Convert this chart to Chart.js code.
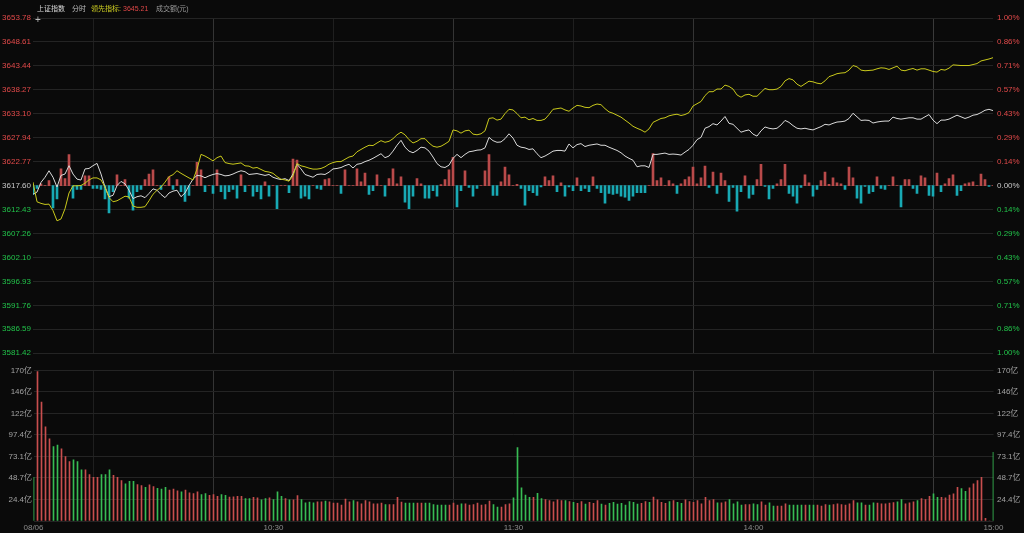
<!DOCTYPE html>
<html>
<head>
<meta charset="utf-8">
<script src="https://cdn.jsdelivr.net/npm/chart.js@4/dist/chart.umd.min.js"></script>
<style>
  html, body { margin: 0; padding: 0; background: #0a0a0a; width: 1024px; height: 533px; overflow: hidden; }
  #priceWrap { position: absolute; left: 0; top: 0; width: 1024px; height: 362px; }
  #volWrap { position: absolute; left: 0; top: 362px; width: 1024px; height: 171px; }
  .hdr { position: absolute; top: 4px; font-size: 7px; line-height: 10px; white-space: nowrap;
         font-family: "Liberation Sans", "Noto Sans CJK SC", sans-serif; }
</style>
</head>
<body>
<div id="priceWrap"><canvas id="price" width="1024" height="362"></canvas></div>
<div id="volWrap"><canvas id="vol" width="1024" height="171"></canvas></div>
<span class="hdr" style="left:37px;color:#d8d8d8">上证指数</span>
<span class="hdr" style="left:72px;color:#bdbdbd">分时</span>
<span class="hdr" style="left:91px;color:#cfcf22">领先指标:</span>
<span class="hdr" style="left:123px;color:#e04848">3645.21</span>
<span class="hdr" style="left:156px;color:#9a9a9a">成交额(元)</span>
<span class="hdr" style="left:35px;top:15px;font-size:10px;color:#bbbbbb">+</span>
<script>
const FONT = '"Liberation Sans", "Noto Sans CJK SC", sans-serif'
const prevClose = 3617.60

// axis labels, top to bottom
const priceLabels = ['3653.78', '3648.61', '3643.44', '3638.27', '3633.10', '3627.94', '3622.77', '3617.60',
  '3612.43', '3607.26', '3602.10', '3596.93', '3591.76', '3586.59', '3581.42']
const pctLabels = ['1.00%', '0.86%', '0.71%', '0.57%', '0.43%', '0.29%', '0.14%', '0.00%',
  '0.14%', '0.29%', '0.43%', '0.57%', '0.71%', '0.86%', '1.00%']
const volTicks = [0, 24.35, 48.7, 73.05, 97.4, 121.75, 146.1, 170.45]
const volLabels = ['', '24.4亿', '48.7亿', '73.1亿', '97.4亿', '122亿', '146亿', '170亿']
const timeTicks = [0, 60, 120, 180, 240]
const timeLabels = ['08/06', '10:30', '11:30', '14:00', '15:00']

// 上证指数, one value per minute (241)
const priceLine = [
  3615.74, 3616.20, 3618.30, 3619.40, 3620.80, 3619.40, 3617.30, 3619.80, 3620.10, 3621.90,
  3620.10, 3619.00, 3618.80, 3621.20, 3621.30, 3621.90, 3622.40, 3620.10, 3617.30, 3615.20,
  3615.50, 3617.60, 3618.50, 3618.00, 3616.60, 3614.80, 3615.20, 3615.40, 3615.00, 3615.90,
  3616.90, 3616.60, 3615.70, 3615.00, 3616.00, 3616.40, 3616.60, 3615.20, 3616.00, 3617.60,
  3619.00, 3619.80, 3619.70, 3619.30, 3619.70, 3620.00, 3620.20, 3620.00, 3619.70, 3619.80,
  3620.10, 3620.50, 3620.80, 3620.60, 3620.00, 3620.10, 3620.20, 3620.00, 3619.80, 3620.00,
  3619.40, 3619.10, 3618.90, 3619.10, 3618.70, 3620.10, 3622.20, 3621.20, 3620.00, 3619.70,
  3619.40, 3620.00, 3620.10, 3620.00, 3620.50, 3621.20, 3621.30, 3621.50, 3621.90, 3622.20,
  3621.40, 3622.20, 3622.36, 3622.78, 3623.07, 3623.49, 3623.98, 3624.48, 3623.63, 3623.98,
  3625.04, 3626.31, 3627.37, 3625.89, 3625.04, 3624.69, 3625.19, 3625.89, 3625.75, 3625.04,
  3623.77, 3622.36, 3621.66, 3621.51, 3622.01, 3623.49, 3624.34, 3623.63, 3624.34, 3624.90,
  3625.04, 3625.25, 3625.32, 3625.75, 3628.01, 3627.30, 3626.95, 3627.02, 3627.73, 3628.78,
  3627.86, 3626.31, 3625.89, 3625.75, 3625.40, 3625.54, 3624.48, 3623.63, 3623.98, 3624.48,
  3625.04, 3625.19, 3625.19, 3625.04, 3626.59, 3625.75, 3626.45, 3626.66, 3626.03, 3626.31,
  3626.45, 3626.59, 3626.31, 3626.31, 3625.89, 3625.54, 3625.19, 3624.69, 3623.98, 3623.49,
  3623.07, 3621.66, 3621.87, 3621.87, 3621.51, 3624.34, 3624.34, 3624.48, 3624.62, 3624.34,
  3624.41, 3624.34, 3624.19, 3624.83, 3625.40, 3626.31, 3627.52, 3628.01, 3629.98, 3630.33,
  3630.97, 3630.69, 3631.53, 3632.52, 3631.04, 3630.83, 3629.98, 3629.13, 3629.42, 3629.62,
  3628.71, 3628.29, 3629.42, 3630.26, 3629.98, 3629.84, 3629.98, 3630.69, 3631.67, 3631.25,
  3630.55, 3629.98, 3629.84, 3629.98, 3629.77, 3629.62, 3629.98, 3630.33, 3630.83, 3630.69,
  3631.04, 3631.32, 3631.39, 3631.53, 3632.09, 3633.22, 3632.45, 3631.67, 3631.74, 3631.67,
  3631.11, 3631.32, 3631.46, 3631.53, 3631.53, 3632.38, 3632.09, 3631.95, 3632.09, 3632.24,
  3632.24, 3631.95, 3631.95, 3632.45, 3632.94, 3631.74, 3630.97, 3631.74, 3631.74, 3631.95,
  3632.38, 3632.80, 3632.45, 3632.09, 3632.38, 3632.80, 3632.94, 3633.36, 3633.86, 3634.07,
  3633.79
]

// 领先指标
const leadLine = [
  3618.34, 3614.11, 3613.76, 3613.54, 3613.60, 3612.20, 3610.00, 3610.40, 3612.60, 3616.00,
  3617.56, 3617.56, 3617.63, 3618.13, 3618.83, 3619.26, 3619.26, 3618.83, 3617.28, 3615.03,
  3614.11, 3614.32, 3614.81, 3615.31, 3615.17, 3613.19, 3612.91, 3612.91, 3613.05, 3614.32,
  3615.73, 3616.58, 3617.28, 3618.34, 3619.54, 3619.96, 3620.81, 3620.25, 3619.75, 3619.26,
  3618.83, 3621.16, 3624.34, 3623.98, 3623.49, 3622.93, 3623.63, 3623.98, 3622.57, 3622.36,
  3622.22, 3622.36, 3622.50, 3621.87, 3621.80, 3621.37, 3621.51, 3621.09, 3620.67, 3620.53,
  3620.25, 3619.54, 3618.98, 3618.83, 3618.55, 3619.75, 3622.36, 3621.87, 3621.66, 3621.37,
  3621.16, 3621.16, 3621.30, 3621.66, 3622.22, 3622.57, 3622.78, 3622.78, 3623.28, 3623.77,
  3623.98, 3624.90, 3625.40, 3625.89, 3626.31, 3626.24, 3626.80, 3627.30, 3626.95, 3627.16,
  3627.73, 3628.57, 3629.13, 3628.57, 3627.52, 3626.80, 3627.16, 3627.73, 3627.73, 3626.80,
  3626.10, 3625.89, 3626.10, 3626.59, 3627.16, 3629.62, 3629.42, 3628.92, 3629.42, 3629.56,
  3628.71, 3628.57, 3628.78, 3629.42, 3632.09, 3632.24, 3631.74, 3631.95, 3633.15, 3634.07,
  3633.93, 3633.15, 3632.24, 3632.38, 3631.81, 3632.09, 3631.67, 3631.67, 3631.95, 3632.94,
  3634.07, 3634.21, 3634.35, 3633.93, 3633.65, 3634.35, 3634.92, 3634.78, 3634.50, 3634.42,
  3634.92, 3635.21, 3635.07, 3634.21, 3633.51, 3633.22, 3632.80, 3632.38, 3631.74, 3631.11,
  3630.40, 3629.98, 3629.62, 3629.13, 3629.84, 3631.25, 3631.67, 3632.09, 3632.24, 3632.66,
  3632.87, 3633.01, 3632.73, 3632.94, 3633.36, 3634.78, 3635.27, 3635.76, 3637.03, 3637.87,
  3637.87, 3638.44, 3638.44, 3639.29, 3639.01, 3638.44, 3637.17, 3636.68, 3637.17, 3637.31,
  3636.89, 3636.89, 3637.74, 3638.58, 3638.30, 3638.30, 3638.44, 3639.01, 3640.21, 3640.70,
  3640.42, 3639.50, 3639.01, 3639.57, 3640.14, 3640.00, 3639.71, 3639.57, 3640.21, 3641.12,
  3641.41, 3641.76, 3641.90, 3641.97, 3642.53, 3643.52, 3643.24, 3642.53, 3642.39, 3642.46,
  3642.53, 3642.81, 3643.03, 3642.95, 3642.67, 3643.03, 3643.38, 3642.53, 3642.39, 3642.67,
  3642.88, 3642.53, 3642.81, 3642.81, 3642.53, 3642.24, 3642.10, 3642.67, 3642.53, 3642.95,
  3643.66, 3643.59, 3643.52, 3643.52, 3643.52, 3643.73, 3643.94, 3644.51, 3644.72, 3644.93,
  3645.21
]

// 红绿柱 (index points above / below prev close)
const flowBars = [
  -1.9, -0.6, 0.4, 0, 1.1, -4.8, -2.9, 3.6, 1.5, 6.7,
  -2.7, -0.8, -0.8, 2.1, 2.1, -0.6, -0.6, -0.8, -2.9, -5.9,
  -1.3, 2.3, 0, 1.3, -2.7, -5.3, -1.3, -0.8, 1.3, 2.5,
  3.4, 0, -0.8, 0, 1.9, -0.8, 1.3, -1.3, -3.4, -2.1,
  0, 5.0, 3.4, -1.3, 0, -1.7, 3.4, -1.3, -2.9, -1.3,
  -0.8, -2.7, 2.3, -1.3, 0, -2.3, -1.3, -2.9, 0.8, -2.3,
  0, -5.0, 0, 0, -1.5, 5.7, 5.5, -2.7, -2.3, -2.9,
  0, -0.6, -0.8, 1.3, 1.5, 0, 0, -1.7, 3.4, 0,
  0, 3.6, 0.8, 2.7, -1.9, -1.1, 2.3, 0, -2.3, 1.5,
  3.6, 0.4, 1.9, -3.6, -5.0, -2.3, 1.5, 0.4, -2.7, -2.7,
  -1.1, -2.3, 0.2, 1.3, 3.4, 6.1, -4.6, -1.1, 3.2, -0.4,
  -2.3, -0.6, 0, 3.2, 6.7, -2.1, -2.1, 0.8, 4.0, 2.3,
  0, 0.3, -0.6, -4.2, -1.1, -1.5, -2.1, -0.3, 1.9, 1.1,
  2.1, -1.3, 0.6, -2.3, -0.3, -1.1, 1.7, -1.1, -0.6, -1.3,
  1.9, -0.6, -1.5, -3.8, -1.7, -1.9, -1.7, -2.3, -2.5, -3.2,
  -2.3, -1.5, -1.5, -1.5, 0, 6.9, 1.1, 1.7, 0, 1.1,
  0.4, -1.7, 0.4, 1.3, 1.9, 4.0, 0.4, 1.7, 4.2, -0.4,
  2.9, -1.7, 2.7, 1.1, -3.4, -0.4, -5.5, -1.3, 2.1, -2.7,
  -1.9, 1.3, 4.6, -0.2, -2.9, -0.6, 0.4, 1.3, 4.6, -1.7,
  -2.3, -3.8, -0.4, 2.3, 0.6, -2.3, -0.8, 1.1, 2.9, 0.3,
  1.7, 0.6, 0.4, -0.8, 4.0, 1.7, -2.7, -3.8, -0.2, -1.7,
  -1.3, 1.9, -0.6, -0.8, 0, 1.9, 0, -4.6, 1.3, 1.3,
  -0.6, -1.7, 2.1, 1.7, -2.1, -2.3, 2.7, -1.3, 0.4, 1.5,
  2.3, -2.1, -1.1, 0.4, 0.6, 0.8, 0, 2.5, 1.3, -0.2,
  0
]

// 成交额 (亿元)
const volume = [
  49.4, 169, 134.6, 106.6, 92.8, 84.2, 86.0, 81.5, 72.9, 67.3,
  69.2, 67.3, 58.0, 58.0, 52.4, 49.4, 49.4, 52.4, 52.4, 58.0,
  51.6, 49.4, 45.6, 41.9, 44.9, 44.9, 41.1, 40, 38, 41,
  39, 37, 36, 38, 35, 36, 34, 33, 35, 32,
  31, 33, 30, 31, 29, 30, 28, 30, 29, 27,
  27.3, 28.0, 28.0, 25.4, 25.4, 26.9, 26.2, 23.9, 25.4, 26.2,
  24.3, 32.9, 28.0, 25.4, 23.9, 23.9, 28.8, 24.3, 20.6, 21.3,
  20.6, 21.7, 21.7, 22.4, 21.7, 20.2, 20.2, 17.9, 24.7, 21.7,
  23.2, 21.7, 19.4, 23.2, 21.7, 19.4, 19.4, 20.2, 18.7, 18.7,
  18.7, 26.9, 21.3, 20.2, 20.2, 20.2, 20.2, 20.2, 20.2, 20.2,
  18.7, 17.9, 17.9, 17.9, 17.9, 20.2, 17.9, 19.4, 19.4, 17.9,
  18.7, 20.2, 17.9, 18.7, 22.4, 18.7, 15.7, 15.7, 18.7, 19.4,
  26.2, 83.0, 37.4, 29.2, 26.9, 26.9, 31.4, 25.4, 24.3, 23.2,
  21.7, 23.9, 23.2, 23.2, 22, 21, 20, 22, 19, 21,
  20, 23, 19, 18, 20, 21, 19, 20, 18, 22,
  21, 19, 20, 22, 21, 27, 24, 21, 20, 22,
  23, 21, 20, 24, 22, 21, 23, 19.4, 26.9, 23.2,
  24.3, 20.6, 20.6, 21.7, 24.3, 19.4, 21.7, 17.9, 18.7, 18.7,
  19.4, 18.7, 21.7, 17.9, 20.6, 16.8, 16.8, 16.8, 19.4, 17.9,
  17.9, 17.9, 17.9, 17.9, 17.9, 17.9, 17.9, 16.8, 18.7, 17.9,
  18.7, 19.4, 18.7, 17.9, 19.4, 23.2, 20.6, 20.6, 17.9, 17.9,
  20.6, 20.2, 19.4, 19.4, 20.2, 20.9, 21.7, 24.3, 19.4, 20.6,
  21.7, 23.2, 25.4, 24.3, 28.0, 30.7, 26.9, 26.9, 26.2, 29.2,
  30.7, 38.1, 36.6, 33.6, 37.4, 41.9, 45.6, 49.4, 3.0, 0,
  77.7
]

const UP_TEXT = '#e24a4a'
const DOWN_TEXT = '#22c24a'
const FLOW_UP = '#b94a4a'
const FLOW_DOWN = '#18a9b4'
const VOL_UP = '#c84e4e'
const VOL_DOWN = '#38bc54'

Chart.defaults.font.family = FONT
Chart.defaults.font.size = 8

const xy = arr => arr.map((v, i) => ({ x: i, y: v }))
const priceTicks = priceLabels.map(Number)
const span = priceTicks[0] - prevClose

// grid lines every 30 minutes, hour lines brighter
const gridX = ctx => {
  if (!ctx.tick) return '#1f1f1f'
  const v = ctx.tick.value
  if (v === 0 || v === 240) return '#3a3a3a'
  return v % 60 === 0 ? '#343434' : '#1f1f1f'
}
const priceColor = ctx => {
  if (!ctx.tick) return '#c8c8c8'
  const v = ctx.tick.value
  if (Math.abs(v - prevClose) < 0.005) return '#c8c8c8'
  return v > prevClose ? UP_TEXT : DOWN_TEXT
}

const volUp = priceLine.map((p, i) => p >= (i ? priceLine[i - 1] : prevClose))

const timeAxis = (showLabels) => ({
  type: "linear",
  min: 0,
  max: 240,
  offset: false,
  afterBuildTicks: s => { s.ticks = [0, 30, 60, 90, 120, 150, 180, 210, 240].map(v => ({ value: v })) },
  ticks: {
    display: showLabels,
    autoSkip: false,
    maxRotation: 0,
    padding: 2,
    color: "#8c8c8c",
    callback: v => {
      const k = timeTicks.indexOf(v)
      return k >= 0 ? timeLabels[k] : ""
    }
  },
  grid: { color: gridX, drawTicks: false },
  border: { display: false },
  afterFit: s => { s.height = showLabels ? 12 : 0 }
})

// plot area 960px wide = 4px per minute, so bars land on whole pixels
new Chart(document.getElementById("price"), {
  data: {
    datasets: [
      {
        type: "bar",
        data: xy(flowBars),
        yAxisID: "yFlow",
        barThickness: 2,
        backgroundColor: ctx => (ctx.raw && ctx.raw.y >= 0) ? FLOW_UP : FLOW_DOWN,
        order: 3
      },
      {
        type: "line",
        data: xy(priceLine),
        borderColor: "#dadada",
        borderWidth: 1,
        pointRadius: 0,
        tension: 0,
        order: 2
      },
      {
        type: "line",
        data: xy(leadLine),
        borderColor: "#c9c91c",
        borderWidth: 1,
        pointRadius: 0,
        tension: 0,
        order: 1
      }
    ]
  },
  options: {
    responsive: false,
    animation: false,
    events: [],
    layout: { padding: { top: 18, bottom: 2, left: 0, right: 2 } },
    plugins: { legend: { display: false }, tooltip: { enabled: false } },
    scales: {
      x: timeAxis(false),
      y: {
        position: "left",
        min: priceTicks[priceTicks.length - 1],
        max: priceTicks[0],
        afterBuildTicks: s => { s.ticks = priceTicks.slice().reverse().map(v => ({ value: v })) },
        ticks: {
          padding: 2,
          color: priceColor,
          callback: v => priceLabels[priceTicks.indexOf(v)]
        },
        grid: { color: "#242424", drawTicks: false },
        border: { display: false },
        afterFit: s => { s.width = 33 }
      },
      y2: {
        position: "right",
        min: priceTicks[priceTicks.length - 1],
        max: priceTicks[0],
        afterBuildTicks: s => { s.ticks = priceTicks.slice().reverse().map(v => ({ value: v })) },
        ticks: {
          padding: 4,
          color: priceColor,
          callback: v => pctLabels[priceTicks.indexOf(v)]
        },
        grid: { display: false, drawTicks: false },
        border: { display: false },
        afterFit: s => { s.width = 29 }
      },
      yFlow: { display: false, min: -span, max: span }
    }
  }
})

new Chart(document.getElementById("vol"), {
  type: "bar",
  data: {
    datasets: [{
      data: xy(volume),
      barThickness: 1,
      backgroundColor: ctx => volUp[ctx.dataIndex] ? VOL_UP : VOL_DOWN
    }]
  },
  options: {
    responsive: false,
    animation: false,
    events: [],
    layout: { padding: { top: 7, bottom: 0, left: 0.5, right: 1.5 } },
    plugins: { legend: { display: false }, tooltip: { enabled: false } },
    scales: {
      x: timeAxis(true),
      y: {
        position: "left",
        min: 0,
        max: volTicks[volTicks.length - 1],
        afterBuildTicks: s => { s.ticks = volTicks.map(v => ({ value: v })) },
        ticks: { padding: 1.5, color: "#a2a2a2", callback: v => volLabels[volTicks.indexOf(v)] },
        grid: { color: "#242424", drawTicks: false },
        border: { display: false },
        afterFit: s => { s.width = 33 }
      },
      y2: {
        position: "right",
        min: 0,
        max: volTicks[volTicks.length - 1],
        afterBuildTicks: s => { s.ticks = volTicks.map(v => ({ value: v })) },
        ticks: { padding: 3.5, color: "#a2a2a2", callback: v => volLabels[volTicks.indexOf(v)] },
        grid: { display: false, drawTicks: false },
        border: { display: false },
        afterFit: s => { s.width = 29 }
      }
    }
  }
})
</script>
</body>
</html>
